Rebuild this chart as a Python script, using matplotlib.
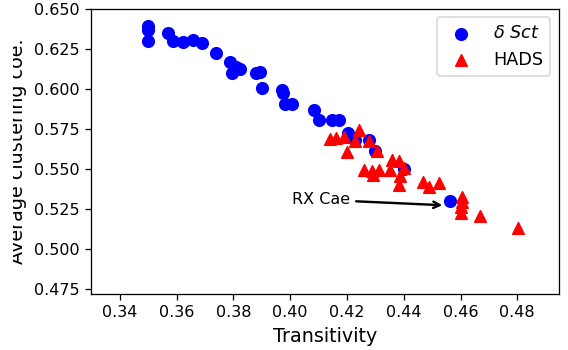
import matplotlib
matplotlib.use('Agg')
import matplotlib.pyplot as plt
from matplotlib.transforms import Bbox, TransformedBbox

# delta Scuti stars
dsct_x = [0.350, 0.350, 0.350, 0.357, 0.3586, 0.3623, 0.3659, 0.3688, 0.3739, 0.3788,
          0.3809, 0.3824, 0.3795, 0.3880, 0.3894, 0.3900, 0.3971, 0.3976, 0.3982, 0.4006,
          0.4082, 0.4100, 0.4147, 0.4171, 0.4203, 0.4229, 0.4276, 0.4300, 0.4400, 0.4562]
dsct_y = [0.6395, 0.6370, 0.6300, 0.6348, 0.6300, 0.6292, 0.6305, 0.6285, 0.6227, 0.6171,
          0.6140, 0.6127, 0.6102, 0.6100, 0.6108, 0.6005, 0.5995, 0.5973, 0.5905, 0.5905,
          0.5869, 0.5806, 0.5806, 0.5806, 0.5728, 0.5681, 0.5681, 0.5610, 0.5500, 0.5302]

# HADS stars
hads_x = [0.4139, 0.4162, 0.4188, 0.4241, 0.4229, 0.4276, 0.4200, 0.4304, 0.4359, 0.4382,
          0.4400, 0.4259, 0.4288, 0.4312, 0.4353, 0.4290, 0.4388, 0.4382, 0.4467, 0.4488,
          0.4524, 0.4604, 0.4606, 0.4602, 0.4602, 0.4670, 0.4802]
hads_y = [0.5685, 0.5694, 0.5697, 0.5746, 0.5676, 0.5672, 0.5608, 0.5610, 0.5556, 0.5551,
          0.5504, 0.5496, 0.5490, 0.5496, 0.5496, 0.5460, 0.5455, 0.5400, 0.5416, 0.5390,
          0.5414, 0.5327, 0.5296, 0.5262, 0.5223, 0.5206, 0.5130]

rx_cae = (0.4547, 0.5273)
rx_text = (0.4005, 0.528)

DPI = 115
W, H = 568, 350
fig = plt.figure(figsize=(W / DPI, H / DPI), dpi=DPI)
ax = fig.add_axes([0.1602, 0.16, 0.824, 0.8157])

ax.scatter(dsct_x, dsct_y, c='blue', marker='o', s=52, label=r'$\delta\ Sct$')
ax.scatter(hads_x, hads_y, c='red', marker='^', s=52, label='HADS')

ax.annotate('RX Cae', xy=rx_cae, xytext=rx_text, fontsize=10,
            arrowprops=dict(arrowstyle='->', color='black', lw=1.5))

ax.set_xlim(0.3298, 0.4947)
ax.set_ylim(0.4719, 0.6503)
ax.set_xticks([0.34, 0.36, 0.38, 0.40, 0.42, 0.44, 0.46, 0.48])
ax.set_yticks([0.475, 0.500, 0.525, 0.550, 0.575, 0.600, 0.625, 0.650])
ax.tick_params(labelsize=10)

ax.set_xlabel('Transitivity', fontsize=12)
ylab = ax.set_ylabel('Average clustering coe.', fontsize=12)
ax.yaxis.set_label_coords(-0.1368, 0.5)
# the original picture cuts the y label off on its left side
ylab.set_clip_on(True)
ylab.set_clip_box(TransformedBbox(Bbox([[13 / W, 0], [1, 1]]), fig.transFigure))

ax.legend(loc='upper right', fontsize=11)

fig.savefig('out.png', dpi=DPI)
